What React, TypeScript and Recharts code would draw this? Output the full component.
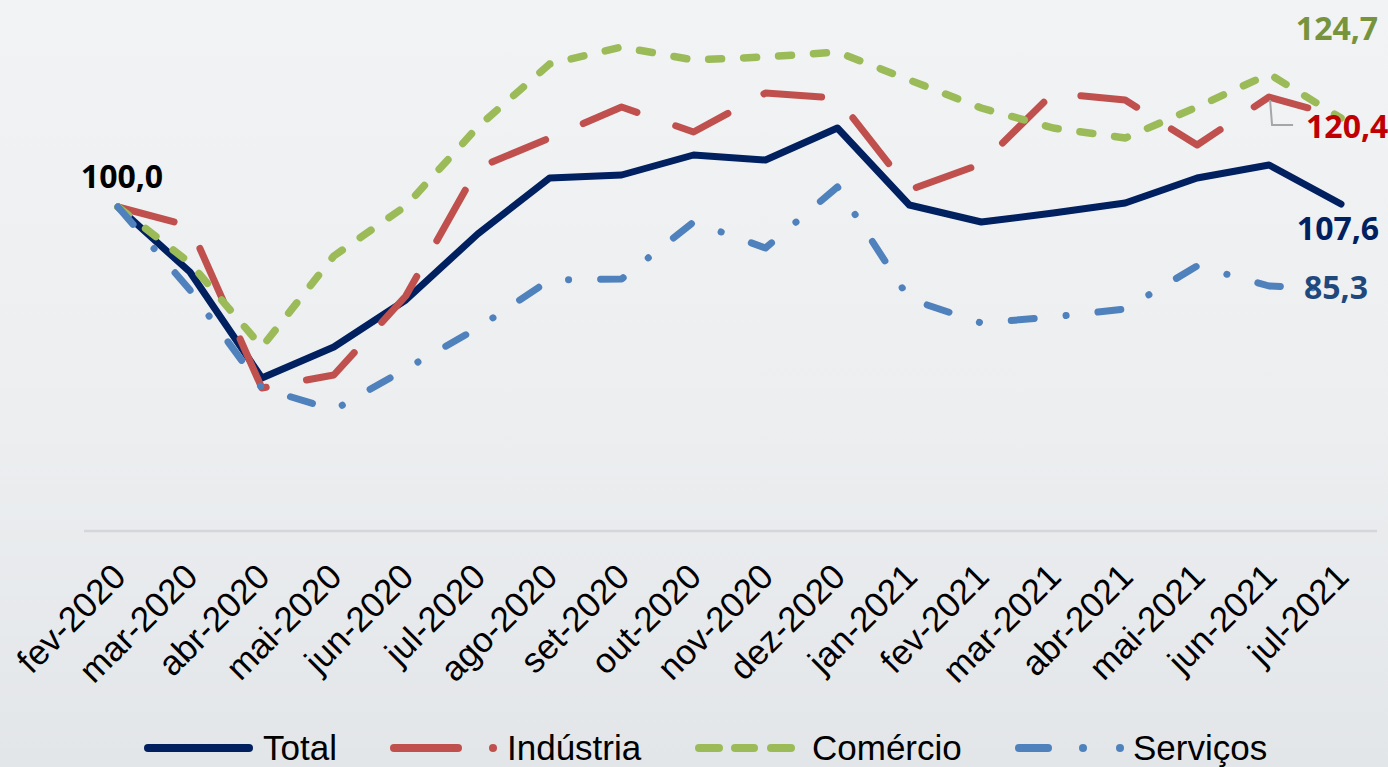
import React from 'react';
import { LineChart, Line, XAxis, YAxis, Legend, LabelList } from 'recharts';

const categories = [
  'fev-2020', 'mar-2020', 'abr-2020', 'mai-2020', 'jun-2020', 'jul-2020', 'ago-2020', 'set-2020', 'out-2020',
  'nov-2020', 'dez-2020', 'jan-2021', 'fev-2021', 'mar-2021', 'abr-2021', 'mai-2021', 'jun-2021', 'jul-2021',
];
const total = [100, 83.75, 57.25, 65, 76.75, 93.25, 107.25, 108, 113, 111.75, 119.75, 100.5, 96.25, 98.5, 101, 107.25, 110.5, 100.75];
const industria = [100, 95.25, 54.75, 58, 77.75, 109.75, 117.25, 125, 118.75, 128.5, 127.25, 104.25, 110.75, 128.5, 126.75, 115.5, 127.5, 122.5];
const comercio = [100, 86, 65, 87.75, 100.25, 120, 135.75, 140, 136.75, 137.5, 138.75, 131.75, 124.75, 119.75, 117.25, 125, 133.25, 122.25];
const servicos = [100, 79.25, 54.75, 49.25, 59.5, 69.75, 81.75, 82, 96.25, 89.75, 105, 77, 71, 72.5, 74.5, 85.25, 80.25, 79.5];

const seriesNames = ['Total', 'Indústria', 'Comércio', 'Serviços'];
const startLabel = '100,0';
const endLabels = ['107,6', '120,4', '124,7', '85,3'];

const COLORS = {
  total: '#002060',
  industria: '#C0504D',
  comercio: '#9BBB59',
  servicos: '#4F81BD',
};
const LABEL_COLORS = ['#002060', '#C00000', '#77933C', '#1F497D'];

const data = categories.map((month, i) => ({
  month,
  total: total[i],
  industria: industria[i],
  comercio: comercio[i],
  servicos: servicos[i],
}));

const LAST = categories.length - 1;
const labelFont = { fontFamily: '"Noto Sans", sans-serif', fontWeight: 700, fontSize: 32 } as const;

const Tick = (props: any) => {
  const { x, y, payload } = props;
  const ax = x + 1;
  const ay = y + 31;
  return (
    <text
      x={ax}
      y={ay}
      transform={`rotate(-45 ${ax} ${ay})`}
      textAnchor="end"
      dominantBaseline="central"
      fontSize={35}
      fontFamily='"Liberation Sans", Arial, sans-serif'
      fill="#000"
    >
      {payload.value}
    </text>
  );
};

const totalLabel = (p: any) => {
  const { x, y, index } = p;
  if (index === 0) {
    return (
      <text x={x + 4} y={y - 19} textAnchor="middle" fill="#000" {...labelFont}>
        {startLabel}
      </text>
    );
  }
  if (index === LAST) {
    return (
      <text x={x - 3} y={y + 36} textAnchor="middle" fill={LABEL_COLORS[0]} {...labelFont}>
        {endLabels[0]}
      </text>
    );
  }
  return null;
};

const industriaLabel = (p: any) => {
  const { x, y, index } = p;
  if (index !== LAST - 1) return null;
  return (
    <g>
      <path d={`M ${x + 1} ${y + 3} L ${x + 3} ${y + 28} L ${x + 24} ${y + 28}`} stroke="#A6A6A6" strokeWidth={2} fill="none" />
      <text x={x + 37} y={y + 41} textAnchor="start" fill={LABEL_COLORS[1]} {...labelFont}>
        {endLabels[1]}
      </text>
    </g>
  );
};

const comercioLabel = (p: any) => {
  const { x, y, index } = p;
  if (index !== LAST) return null;
  return (
    <text x={x - 4} y={y - 78} textAnchor="middle" fill={LABEL_COLORS[2]} {...labelFont}>
      {endLabels[2]}
    </text>
  );
};

const servicosLabel = (p: any) => {
  const { x, y, index } = p;
  if (index !== LAST) return null;
  return (
    <text x={x - 5} y={y + 10} textAnchor="middle" fill={LABEL_COLORS[3]} {...labelFont}>
      {endLabels[3]}
    </text>
  );
};

const LegendContent = () => (
  <svg width={1388} height={40} style={{ display: 'block' }}>
    <g fontFamily='"Liberation Sans", Arial, sans-serif' fontSize={35} fill="#000">
      <line x1={148} y1={21} x2={249} y2={21} stroke={COLORS.total} strokeWidth={8} strokeLinecap="round" />
      <text x={263} y={33}>{seriesNames[0]}</text>

      <line x1={394} y1={21} x2={458} y2={21} stroke={COLORS.industria} strokeWidth={8} strokeLinecap="round" />
      <circle cx={493} cy={21} r={4} fill={COLORS.industria} />
      <text x={507} y={33}>{seriesNames[1]}</text>

      <line x1={699} y1={21} x2={719} y2={21} stroke={COLORS.comercio} strokeWidth={8} strokeLinecap="round" />
      <line x1={735} y1={21} x2={754} y2={21} stroke={COLORS.comercio} strokeWidth={8} strokeLinecap="round" />
      <line x1={771} y1={21} x2={791} y2={21} stroke={COLORS.comercio} strokeWidth={8} strokeLinecap="round" />
      <text x={812} y={33}>{seriesNames[2]}</text>

      <line x1={1019} y1={21} x2={1048} y2={21} stroke={COLORS.servicos} strokeWidth={8} strokeLinecap="round" />
      <circle cx={1083} cy={21} r={4} fill={COLORS.servicos} />
      <circle cx={1120} cy={21} r={4} fill={COLORS.servicos} />
      <text x={1133} y={33}>{seriesNames[3]}</text>
    </g>
  </svg>
);

export default function App() {
  return (
    <div
      style={{
        position: 'fixed',
        left: 0,
        top: 0,
        width: 1388,
        height: 767,
        overflow: 'hidden',
        background: 'linear-gradient(180deg, #F2F3F4 0%, #ECEEF0 55%, #E3E6E9 100%)',
      }}
    >
      <LineChart width={1388} height={767} data={data} margin={{ top: 11, right: 11, bottom: 0, left: 84 }}>
        <XAxis
          dataKey="month"
          interval={0}
          tick={<Tick />}
          tickLine={false}
          axisLine={{ stroke: '#D3D6DA', strokeWidth: 2.5 }}
          padding={{ left: 34, right: 36 }}
          height={196}
        />
        <YAxis hide domain={[19, 149]} />
        <Legend
          verticalAlign="bottom"
          content={<LegendContent />}
          wrapperStyle={{ left: 0, width: 1388, height: 40 }}
        />
        <Line
          type="linear"
          dataKey="total"
          name={seriesNames[0]}
          stroke={COLORS.total}
          strokeWidth={7}
          strokeLinecap="round"
          strokeLinejoin="round"
          dot={false}
          activeDot={false}
          isAnimationActive={false}
        >
          <LabelList dataKey="total" content={totalLabel} />
        </Line>
        <Line
          type="linear"
          dataKey="industria"
          name={seriesNames[1]}
          stroke={COLORS.industria}
          strokeWidth={7}
          strokeDasharray="58 41"
          strokeLinecap="round"
          strokeLinejoin="round"
          dot={false}
          activeDot={false}
          isAnimationActive={false}
        >
          <LabelList dataKey="industria" content={industriaLabel} />
        </Line>
        <Line
          type="linear"
          dataKey="comercio"
          name={seriesNames[2]}
          stroke={COLORS.comercio}
          strokeWidth={7.5}
          strokeDasharray="13 22"
          strokeLinecap="round"
          strokeLinejoin="round"
          dot={false}
          activeDot={false}
          isAnimationActive={false}
        >
          <LabelList dataKey="comercio" content={comercioLabel} />
        </Line>
        <Line
          type="linear"
          dataKey="servicos"
          name={seriesNames[3]}
          stroke={COLORS.servicos}
          strokeWidth={7}
          strokeDasharray="23 32 0.1 32"
          strokeLinecap="round"
          strokeLinejoin="round"
          dot={false}
          activeDot={false}
          isAnimationActive={false}
        >
          <LabelList dataKey="servicos" content={servicosLabel} />
        </Line>
      </LineChart>
    </div>
  );
}
